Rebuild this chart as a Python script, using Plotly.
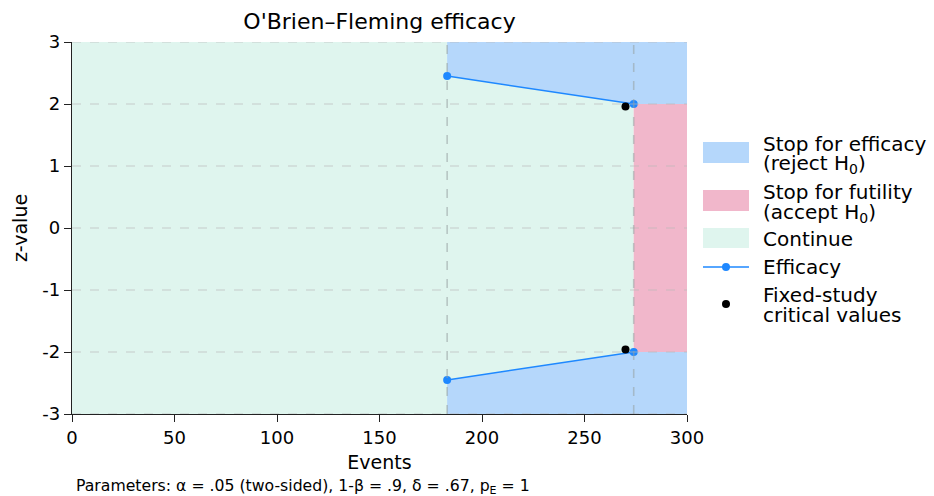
import plotly.graph_objects as go

# ---- data ----
x_min, x_max = 0, 300
y_min, y_max = -3, 3
look_events = [183, 274]
upper_bound = [2.45, 2.00]
lower_bound = [-2.45, -2.00]
fixed_events = [270, 270]
fixed_crit = [1.96, -1.96]
x_ticks = [0, 50, 100, 150, 200, 250, 300]
y_ticks = [-3, -2, -1, 0, 1, 2, 3]

C_EFF = "#b5d7fb"
C_FUT = "#f1b7cb"
C_CON = "#dff5ee"
C_LINE = "#1e88ff"
FONT = "DejaVu Sans"

fig = go.Figure()

# Continue region
fig.add_trace(go.Scatter(
    x=[x_min, look_events[-1], look_events[-1], x_min, x_min],
    y=[y_min, y_min, y_max, y_max, y_min],
    fill="toself", fillcolor=C_CON, mode="none", name="Continue",
    showlegend=False, hoverinfo="skip"))

# Efficacy regions (upper and lower)
ux = [look_events[0]] + look_events + [x_max, x_max, look_events[0]]
uy = [y_max] + upper_bound + [upper_bound[-1], y_max, y_max]
lx = [look_events[0]] + look_events + [x_max, x_max, look_events[0]]
ly = [y_min] + lower_bound + [lower_bound[-1], y_min, y_min]
fig.add_trace(go.Scatter(
    x=ux + [None] + lx, y=uy + [None] + ly,
    fill="toself", fillcolor=C_EFF, mode="none",
    name="Stop for efficacy (reject H0)", showlegend=False, hoverinfo="skip"))

# Futility region
fig.add_trace(go.Scatter(
    x=[look_events[-1], x_max, x_max, look_events[-1], look_events[-1]],
    y=[lower_bound[-1], lower_bound[-1], upper_bound[-1], upper_bound[-1], lower_bound[-1]],
    fill="toself", fillcolor=C_FUT, mode="none",
    name="Stop for futility (accept H0)", showlegend=False, hoverinfo="skip"))

# Efficacy boundaries
fig.add_trace(go.Scatter(
    x=look_events + [None] + look_events, y=upper_bound + [None] + lower_bound,
    mode="lines+markers", line=dict(color=C_LINE, width=1.5),
    marker=dict(color=C_LINE, size=8), name="Efficacy", showlegend=False))

# Fixed-study critical values
fig.add_trace(go.Scatter(
    x=fixed_events, y=fixed_crit, mode="markers",
    marker=dict(color="black", size=8),
    name="Fixed-study critical values", showlegend=False))

shapes = []
for yv in y_ticks:
    shapes.append(dict(type="line", xref="x", yref="y", x0=x_min, x1=x_max, y0=yv, y1=yv,
                       line=dict(color="rgba(185,185,185,0.45)", width=1.3, dash="dash"),
                       layer="above"))
for xv in look_events:
    shapes.append(dict(type="line", xref="x", yref="y", x0=xv, x1=xv, y0=y_min, y1=y_max,
                       line=dict(color="rgba(150,160,160,0.55)", width=1.6, dash="dash"),
                       layer="above"))

# ---- legend (drawn manually to match the reference swatches) ----
sw_x0, sw_x1 = 1.026, 1.1008
txt_x = 1.1203
for c, y0, y1 in [(C_EFF, 0.6747, 0.7312), (C_FUT, 0.5457, 0.6022), (C_CON, 0.4462, 0.5000)]:
    shapes.append(dict(type="rect", xref="paper", yref="paper", x0=sw_x0, x1=sw_x1,
                       y0=y0, y1=y1, fillcolor=c, line=dict(width=0)))
leg_line_y = 0.3952
shapes.append(dict(type="line", xref="paper", yref="paper", x0=sw_x0, x1=sw_x1,
                   y0=leg_line_y, y1=leg_line_y, line=dict(color=C_LINE, width=1.5)))
mid_x = (sw_x0 + sw_x1) / 2
for col, yc in [(C_LINE, leg_line_y), ("black", 0.2957)]:
    shapes.append(dict(type="circle", xref="paper", yref="paper", xsizemode="pixel",
                       ysizemode="pixel", xanchor=mid_x, yanchor=yc,
                       x0=-4, x1=4, y0=-4, y1=4, fillcolor=col, line=dict(width=0)))

legend_lines = [
    ("Stop for efficacy", 0.7258),
    ("(reject H<sub>0</sub>)", 0.6720),
    ("Stop for futility", 0.5968),
    ("(accept H<sub>0</sub>)", 0.5403),
    ("Continue", 0.4704),
    ("Efficacy", 0.3952),
    ("Fixed-study", 0.3199),
    ("critical values", 0.2661),
]
annotations = []
for t, yc in legend_lines:
    annotations.append(dict(text=t, xref="paper", yref="paper", x=txt_x, y=yc,
                            xanchor="left", yanchor="middle", showarrow=False,
                            font=dict(size=20, family=FONT, color="black")))

annotations.append(dict(
    text="Parameters: α = .05 (two-sided), 1-β = .9, δ = .67, p<sub>E</sub> = 1",
    xref="paper", yref="paper", x=0.003, y=-0.196, xanchor="left",
    yanchor="middle", showarrow=False, font=dict(size=15.7, family=FONT)))

fig.update_layout(
    width=934, height=496,
    margin=dict(l=72, r=247, t=42, b=82, autoexpand=False),
    paper_bgcolor="white", plot_bgcolor="white",
    font=dict(family=FONT, size=18, color="black"),
    title=dict(text="O'Brien–Fleming efficacy", x=0.5, xref="paper", xanchor="center",
               yref="container", y=0.958, yanchor="middle", font=dict(size=22)),
    shapes=shapes,
    annotations=annotations,
    showlegend=False,
    xaxis=dict(range=[x_min, x_max], tickvals=x_ticks, ticktext=[str(v) for v in x_ticks],
               showgrid=False, zeroline=False,
               showline=True, linecolor="#222", linewidth=1.3, ticks="outside",
               ticklen=7, tickwidth=1.3, tickcolor="#222", automargin=False,
               title=dict(text="Events", standoff=8, font=dict(size=19)),
               tickfont=dict(size=18)),
    yaxis=dict(range=[y_min, y_max], tickvals=y_ticks, ticktext=[str(v) for v in y_ticks],
               showgrid=False, zeroline=False,
               showline=True, linecolor="#222", linewidth=1.3, ticks="outside",
               ticklen=7, tickwidth=1.3, tickcolor="#222", automargin=False,
               title=dict(text="z-value", standoff=9, font=dict(size=19)),
               tickfont=dict(size=18)),
)

fig.write_html("out.html", config={"displayModeBar": False},
               post_script="document.body.style.margin='0';document.body.style.overflow='hidden';")
